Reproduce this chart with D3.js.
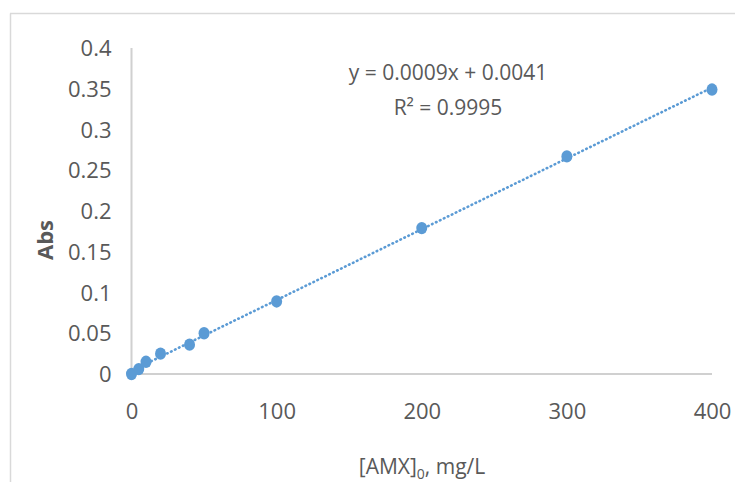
<!DOCTYPE html>
<html>
<head>
<meta charset="utf-8">
<script src="https://cdn.jsdelivr.net/npm/d3@7"></script>
<style>
html,body{margin:0;padding:0;background:#fff;}
svg{display:block;}
text{font-family:"Open Sans","Lato",sans-serif;}
</style>
</head>
<body>
<svg id="chart" width="735" height="482"></svg>
<script>
// Data
const concentrations = [0, 5, 10, 20, 40, 50, 100, 200, 300, 400];
const absorbance = [0.000, 0.006, 0.015, 0.025, 0.036, 0.050, 0.089, 0.179, 0.267, 0.349];
const xTicks = [0, 100, 200, 300, 400];
const yTicks = [0, 0.05, 0.1, 0.15, 0.2, 0.25, 0.3, 0.35, 0.4];
const equationLabel = "y = 0.0009x + 0.0041";
const r2Label = "R² = 0.9995";
const xTitle = "[AMX]";
const xTitleSub = "0";
const xTitleRest = ", mg/L";
const yTitle = "Abs";

const svg = d3.select("#chart");
const color = "#5b9bd5";
const textColor = "#595959";

// frame
svg.append("line").attr("x1",10.5).attr("x2",10.5).attr("y1",13.5).attr("y2",482)
  .attr("stroke","#d9d9d9").attr("stroke-width",1.5);
svg.append("line").attr("x1",10).attr("x2",735).attr("y1",13.5).attr("y2",13.5)
  .attr("stroke","#d9d9d9").attr("stroke-width",1.5);

const x = d3.scaleLinear().domain([0,400]).range([131.5,712]);
const y = d3.scaleLinear().domain([0,0.4]).range([374,48]);

// axes lines
svg.append("line").attr("x1",x(0)).attr("x2",x(400)).attr("y1",y(0)).attr("y2",y(0))
  .attr("stroke","#d0d0d0").attr("stroke-width",2);
svg.append("line").attr("x1",x(0)).attr("x2",x(0)).attr("y1",y(0)).attr("y2",y(0.4))
  .attr("stroke","#d0d0d0").attr("stroke-width",2);

// Tick labels via axes
const yAxis = svg.append("g").attr("transform",`translate(${x(0)-20},0)`)
  .call(d3.axisLeft(y).tickValues(yTicks).tickSize(0).tickFormat(d => String(+d.toFixed(2))));
const xAxis = svg.append("g").attr("transform",`translate(0,${y(0)+37})`)
  .call(d3.axisBottom(x).tickValues(xTicks).tickSize(0).tickFormat(d3.format("d")));
[yAxis, xAxis].forEach(g => {
  g.select(".domain").remove();
  g.selectAll("text").attr("fill",textColor).style("font-size","22px")
    .style("font-family",'"Open Sans",sans-serif');
});
yAxis.selectAll("text").attr("dy","0.35em").attr("x",0);
xAxis.selectAll("text").attr("dy","0.35em").attr("y",0);

// regression trendline computed from data
const n = concentrations.length;
const mx = d3.mean(concentrations), my = d3.mean(absorbance);
let sxy=0, sxx=0;
for (let i=0;i<n;i++){ sxy += (concentrations[i]-mx)*(absorbance[i]-my); sxx += (concentrations[i]-mx)**2; }
const slope = sxy/sxx, intercept = my - slope*mx;
const xDom = d3.extent(concentrations);
svg.append("line")
  .attr("x1",x(xDom[0])).attr("y1",y(intercept+slope*xDom[0]))
  .attr("x2",x(xDom[1])).attr("y2",y(intercept+slope*xDom[1]))
  .attr("stroke",color).attr("stroke-width",2.6)
  .attr("stroke-dasharray","0.6,3.8").attr("stroke-linecap","round");

// points
svg.append("g").selectAll("ellipse").data(concentrations.map((c,i)=>[c,absorbance[i]]))
  .join("ellipse")
  .attr("cx",d=>x(d[0])).attr("cy",d=>y(d[1]))
  .attr("rx",5.5).attr("ry",6.2).attr("fill",color);

// equation
svg.append("text").attr("x",448).attr("y",80).attr("text-anchor","middle")
  .attr("fill",textColor).style("font-size","21px").text(equationLabel);
svg.append("text").attr("x",448).attr("y",115).attr("text-anchor","middle")
  .attr("fill",textColor).style("font-size","21px").text(r2Label);

// axis titles
const xt = svg.append("text").attr("x",422).attr("y",474).attr("text-anchor","middle")
  .attr("fill",textColor).style("font-size","21px");
xt.append("tspan").text(xTitle);
xt.append("tspan").attr("dy",5).style("font-size","14px").text(xTitleSub);
xt.append("tspan").attr("dy",-5).text(xTitleRest);

svg.append("text").attr("transform","translate(53,240) rotate(-90)")
  .attr("text-anchor","middle").attr("fill",textColor)
  .style("font-size","22px").style("font-weight","bold").text(yTitle);
</script>
</body>
</html>
